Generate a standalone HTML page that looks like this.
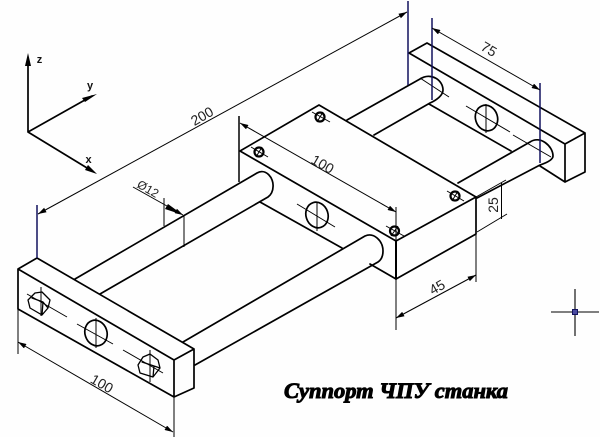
<!DOCTYPE html>
<html><head><meta charset="utf-8"><style>
html,body{margin:0;padding:0;background:#fff}
svg{display:block;filter:blur(.25px)}
.m{stroke:#000;stroke-width:1.7;fill:none;stroke-linecap:round;stroke-linejoin:round}
.t{stroke:#000;stroke-width:1;fill:none}
.b{stroke:#12125e;stroke-width:1.5;fill:none}
.d{font-family:"Liberation Sans",sans-serif;font-size:14px;fill:#222;text-anchor:middle;dominant-baseline:central}
.a{font-family:"Liberation Sans",sans-serif;font-size:11px;font-weight:bold;fill:#111;text-anchor:middle;dominant-baseline:central}
</style></head><body>
<svg width="600" height="437" viewBox="0 0 600 437" xmlns="http://www.w3.org/2000/svg">
<rect width="600" height="437" fill="#fefefe"/>
<defs><marker id="ar" viewBox="0 0 10 6" refX="10" refY="3" markerWidth="9" markerHeight="5" markerUnits="userSpaceOnUse" orient="auto-start-reverse"><path d="M0 0L10 3L0 6Z" fill="#000"/></marker></defs>

<!-- axes -->
<path class="m" d="M28 132V58M28 132L92 96M28 132L92 171"/>
<path d="M28 53L31 66H25Z M97 94L85 102L82 98Z M97 174L85 170L88 165Z" fill="#000"/>
<text class="a" x="39.500" y="60">z</text>
<text class="a" x="90" y="86">y</text>
<text class="a" x="88.500" y="160">x</text>

<!-- left block -->
<path class="m" d="M18 269L37 258L194 349L174 360ZM174 360V397L18 309V269M194 349V388L174 397"/>
<!-- rods -->
<path class="m" d="M75 279L257 173C266 168 274 178 273 187C273 191 271 195 268 197L100 294"/>
<path class="m" d="M183 342L365 236C374 232 383 241 383 251C383 256 381 260 378 262L195 365"/>
<!-- center block -->
<path class="m" d="M240 151L319 105L476 197L396 241ZM396 241V279L476 234V197M260 202L342 248M370 264L396 279"/>
<!-- right rods -->
<path class="m" d="M347 120L420 79C431 72 443 80 443 90C443 95 437 100 430 103L374 135"/>
<path class="m" d="M458 183L530 142C540 135 553 146 553 156C553 160 546 163 540 165L477 198"/>
<!-- right block -->
<path class="m" d="M409 53L427 43L585 133L565 144ZM565 144V182L585 172V133M540 166L565 182M429 104L511 151"/>

<!-- holes -->
<ellipse class="m" cx="96" cy="333" rx="11" ry="13" transform="rotate(-18 96 333)"/>
<ellipse class="m" cx="317" cy="215" rx="11" ry="13" transform="rotate(-18 317 215)"/>
<ellipse class="m" cx="486.500" cy="118" rx="11" ry="13" transform="rotate(-18 486.500 118)"/>
<!-- centre lines -->
<path class="t" d="M27 294L67 317M77 324L113 344M123 350L163 373M96 318V348"/>
<path class="t" d="M297 204L335 227M317 202V231"/>
<path class="t" d="M420 78L449 97M466 106L510 132M513 135L551 157M486 104V133"/>

<!-- square heads -->
<path class="m" style="stroke-width:1.3" d="M28 300L35 293L42 292L50 300L48 308L42 315L30 308ZM32 298L43 302L48 308M43 302L42 315"/>
<path class="t" d="M41 287V316"/>
<path class="m" style="stroke-width:1.3" d="M138 365L143 357L150 354L158 360L160 368L153 377L140 373ZM142 362L154 366L153 377M154 366L160 368"/>
<path class="t" d="M150 350V382"/>

<!-- bolts on center -->
<g class="m" style="stroke-width:2.2">
<circle cx="320" cy="117" r="4.500"/><circle cx="259" cy="152" r="4.500"/><circle cx="394.500" cy="231" r="4.500"/><circle cx="455" cy="196" r="4.500"/>
</g>
<path class="t" d="M312 112L330 122M251 147L268 157M386 226L404 236M447 191L464 201M323 112L317 122M262 147L256 157M398 226L391 236M458 191L452 201"/>

<!-- extension lines -->
<path class="b" d="M37 205V258M408 1V85M432 18V100M540 83V163"/>
<path class="b" style="stroke:#000" d="M239 116V182"/>
<path class="t" d="M18 309V354M174 397V437M396 207V241M396 279V330M476 234V282M164 198V226M184 215V247M476 197L506 180M477 232L507 214"/>
<path class="m" style="stroke-width:2" d="M396 241V279"/>

<!-- dims -->
<line class="t" x1="38" y1="214" x2="407" y2="12" marker-start="url(#ar)" marker-end="url(#ar)"/>
<line class="t" x1="18" y1="342" x2="173" y2="432" marker-start="url(#ar)" marker-end="url(#ar)"/>
<line class="t" x1="240" y1="123" x2="396" y2="212" marker-start="url(#ar)" marker-end="url(#ar)"/>
<line class="t" x1="432" y1="28" x2="540" y2="90" marker-start="url(#ar)" marker-end="url(#ar)"/>
<line class="t" x1="396" y1="318" x2="476" y2="275" marker-start="url(#ar)" marker-end="url(#ar)"/>
<line class="t" x1="501.500" y1="183" x2="501.500" y2="219"/>
<line class="t" x1="133" y1="187" x2="183" y2="215" marker-end="url(#ar)"/>
<path d="M183 215L168 204L165 209Z" fill="#000"/>

<!-- dim text -->
<text class="d" x="202" y="116" transform="rotate(-30 202 116)">200</text>
<text class="d" x="322.700" y="164" transform="rotate(30 322.700 164)">100</text>
<text class="d" x="102" y="383.500" transform="rotate(30 102 383.500)">100</text>
<text class="d" x="489" y="49" transform="rotate(30 489 49)">75</text>
<text class="d" x="437" y="287" transform="rotate(-30 437 287)">45</text>
<text class="d" x="493" y="205" transform="rotate(-90 493 205)">25</text>
<text class="d" style="font-size:12px" x="148" y="189" transform="rotate(30 148 189)">Ø12</text>

<!-- crosshair -->
<path class="t" style="stroke-width:1.1" d="M551 312H599M575 289V336"/>
<rect x="572.500" y="309.500" width="5" height="5" fill="#4a4aa0" stroke="#12125e" stroke-width="1"/>

<!-- title -->
<text x="284" y="398" textLength="224" lengthAdjust="spacingAndGlyphs" style="font-family:'Liberation Serif','Noto Serif CJK SC',serif;font-size:22px;font-weight:bold;font-style:italic;fill:#000;stroke:#000;stroke-width:1">Суппорт ЧПУ станка</text>
</svg>
</body></html>
